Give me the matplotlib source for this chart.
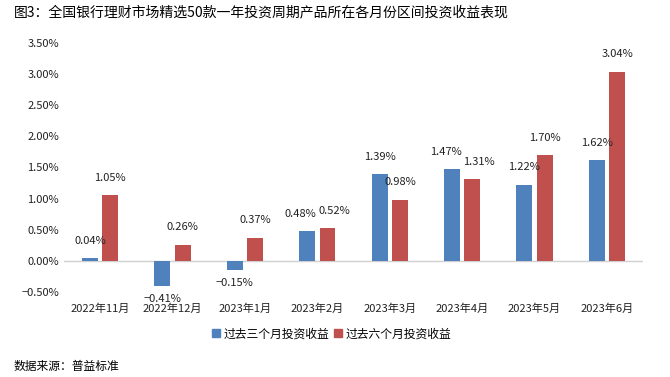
import matplotlib
matplotlib.use("Agg")
import matplotlib.pyplot as plt
import numpy as np
from matplotlib.ticker import FuncFormatter
from matplotlib.patches import Patch

plt.rcParams['font.family'] = ['Noto Sans CJK SC', 'DejaVu Sans']
plt.rcParams['axes.unicode_minus'] = True

categories = ["2022年11月", "2022年12月", "2023年1月", "2023年2月", "2023年3月", "2023年4月", "2023年5月", "2023年6月"]
three_month = [0.04, -0.41, -0.15, 0.48, 1.39, 1.47, 1.22, 1.62]
six_month = [1.05, 0.26, 0.37, 0.52, 0.98, 1.31, 1.70, 3.04]
series_names = ["过去三个月投资收益", "过去六个月投资收益"]
yticks = [-0.5, 0.0, 0.5, 1.0, 1.5, 2.0, 2.5, 3.0, 3.5]

blue = "#4F81BD"
red = "#C0504D"

def pct(v):
    s = f"{abs(v):.2f}%"
    return ("\u2212" + s) if v < 0 else s

fig = plt.figure(figsize=(6.7, 3.77), dpi=100)
ax = fig.add_axes([0.0955, 0.2255, 0.8645, 0.6605])

x = np.arange(len(categories))
w = 0.22
off = 0.14
ax.bar(x - off, three_month, w, color=blue, zorder=3)
ax.bar(x + off, six_month, w, color=red, zorder=3)

for i, (xi, a, b) in enumerate(zip(x, three_month, six_month)):
    # spread labels a bit when both bars have similar heights
    spread = 0.09 if abs(a - b) < 0.2 else 0.0
    if a >= 0:
        ax.text(xi - off - spread, a + 0.2, pct(a), ha='center', va='bottom', fontsize=8, color='#222222')
    else:
        ax.text(xi - off, a - 0.12, pct(a), ha='center', va='top', fontsize=8, color='#222222')
    ax.text(xi + off + spread, b + 0.2, pct(b), ha='center', va='bottom', fontsize=8, color='#222222')

ax.axhline(0, color='#d0d0d0', lw=1, zorder=2)
ax.set_ylim(-0.5, 3.5)
ax.set_xlim(-0.5, len(categories) - 0.5)
ax.set_yticks(yticks)
ax.yaxis.set_major_formatter(FuncFormatter(lambda v, p: pct(v) if abs(v) > 1e-9 else "0.00%"))
ax.set_xticks(x)
ax.set_xticklabels(categories)
ax.tick_params(axis='both', length=0, labelsize=8, colors='#222222')
ax.tick_params(axis='x', pad=8)
for s in ax.spines.values():
    s.set_visible(False)

handles = [Patch(color=blue), Patch(color=red)]
fig.legend(handles, series_names, loc='center', bbox_to_anchor=(0.495, 0.115), ncol=2,
           frameon=False, fontsize=8.5, handlelength=0.7, handleheight=0.7, handletextpad=0.3, columnspacing=0.4)

fig.text(0.02, 0.968, "图3：全国银行理财市场精选50款一年投资周期产品所在各月份区间投资收益表现", fontsize=10, va='center', ha='left')
fig.text(0.02, 0.027, "数据来源：普益标准", fontsize=8.5, va='center', ha='left')

fig.savefig("out.png", dpi=100)
